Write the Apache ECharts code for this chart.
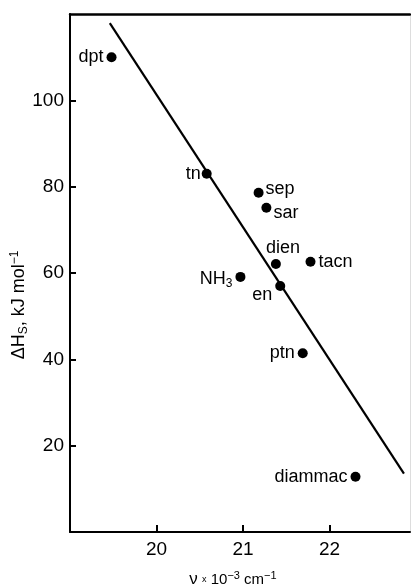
<!DOCTYPE html>
<html>
<head>
<meta charset="utf-8">
<script src="https://cdn.jsdelivr.net/npm/echarts@6/dist/echarts.min.js"></script>
<style>html,body{margin:0;padding:0;background:#fff}#c{width:411px;height:585px}</style>
</head>
<body>
<div id="c"></div>
<script>
const names = ['dpt','tn','sep','sar','dien','tacn','NH3','en','ptn','diammac'];
const wavenumbers = [19.48,20.58,21.18,21.27,21.38,21.78,20.97,21.43,21.69,22.30];
const enthalpies = [110,83,78.6,75.1,62.1,62.6,59.1,57,41.4,12.8];
const fitX = [19.46,22.86];
const fitY = [117.9,13.5];
const xTicks = [20,21,22];
const yTicks = [20,40,60,80,100];

const labelPos = {
  dpt:{position:'left',distance:3},
  tn:{position:'left',distance:1},
  sep:{position:'right',distance:2,offset:[0,-4]},
  sar:{position:'right',distance:2,offset:[0,5]},
  dien:{position:'top',distance:2,offset:[7,0]},
  tacn:{position:'right',distance:3},
  NH3:{position:'left',distance:3,offset:[0,2]},
  en:{position:'left',distance:2,offset:[-1,9]},
  ptn:{position:'left',distance:3},
  diammac:{position:'left',distance:3}
};

const pts = names.map((n,i)=>({
  value:[wavenumbers[i],enthalpies[i]],
  label:Object.assign({show:true,formatter: n==='NH3' ? 'NH{s|3}' : n}, labelPos[n])
}));

const font = 'Liberation Sans, Arial, sans-serif';
const chart = echarts.init(document.getElementById('c'), null, {renderer:'canvas'});
chart.setOption({
  animation:false,
  backgroundColor:'#fff',
  grid:{left:70,right:1,top:14,bottom:53,containLabel:false,outerBoundsMode:'none'},
  xAxis:[{
    type:'value', min:19, max:22.93, interval:1,
    axisLine:{show:true,onZero:false,lineStyle:{color:'#000',width:2}},
    axisTick:{show:true,inside:true,length:7,lineStyle:{color:'#000',width:2},customValues:xTicks},
    axisLabel:{color:'#000',fontSize:19,fontFamily:font,margin:8,customValues:xTicks},
    splitLine:{show:false},
    name:'{g|ν} {x|x} 10{sup|−3} cm{sup|−1}',
    nameLocation:'middle', nameGap:38, nameMoveOverlap:false,
    nameTextStyle:{color:'#000',fontFamily:font,fontSize:15,padding:[0,14,0,0],
      rich:{g:{fontSize:17,fontFamily:font,color:'#000'},x:{fontSize:9,fontFamily:font,color:'#000'},sup:{fontSize:11,fontFamily:font,color:'#000',padding:[0,0,8,0]}}}
  },{
    type:'value', position:'top', min:19, max:22.93,
    axisLine:{show:true,onZero:false,lineStyle:{color:'#000',width:2.5}},
    axisTick:{show:false}, axisLabel:{show:false}, splitLine:{show:false}
  }],
  yAxis:[{
    type:'value', min:0, max:120, interval:20,
    axisLine:{show:true,onZero:false,lineStyle:{color:'#000',width:2}},
    axisTick:{show:true,inside:true,length:6,lineStyle:{color:'#000',width:2},customValues:yTicks},
    axisLabel:{color:'#000',fontSize:19,fontFamily:font,margin:6,customValues:yTicks},
    splitLine:{show:false},
    name:'ΔH{sub|S}, kJ mol{sup|−1}',
    nameLocation:'middle', nameRotate:90, nameGap:40, nameMoveOverlap:false,
    nameTextStyle:{color:'#000',fontFamily:font,fontSize:18,padding:[0,64,0,0],
      rich:{sub:{fontSize:12,fontFamily:font,color:'#000',padding:[9,0,0,0]},sup:{fontSize:12,fontFamily:font,color:'#000',padding:[0,0,9,0]}}}
  },{
    type:'value', position:'right', min:0, max:120,
    axisLine:{show:true,onZero:false,lineStyle:{color:'#ddd',width:1}},
    axisTick:{show:false}, axisLabel:{show:false}, splitLine:{show:false}
  }],
  series:[{
    type:'line',
    data: fitX.map((x,i)=>[x,fitY[i]]),
    symbol:'none',
    lineStyle:{color:'#000',width:2.2},
    silent:true, z:2
  },{
    type:'scatter',
    data: pts,
    symbol:'circle', symbolSize:10,
    itemStyle:{color:'#000',opacity:1},
    label:{color:'#000',fontSize:18,fontFamily:font,
      rich:{s:{fontSize:12,fontFamily:font,color:'#000',padding:[9,0,0,0]}}},
    z:3
  }]
});
</script>
</body>
</html>
